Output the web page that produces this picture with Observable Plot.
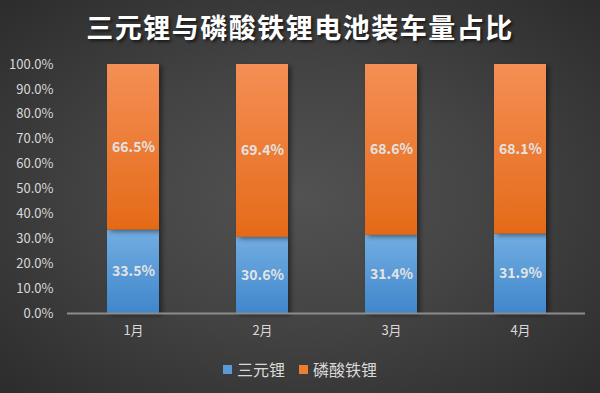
<!DOCTYPE html>
<html>
<head>
<meta charset="utf-8">
<script src="https://cdn.jsdelivr.net/npm/d3@7"></script>
<script src="https://cdn.jsdelivr.net/npm/@observablehq/plot@0.6"></script>
<style>
  html, body { margin: 0; padding: 0; }
  #wrap {
    position: relative; width: 600px; height: 393px; overflow: hidden;
    background: radial-gradient(ellipse at 50% 50%, #525252 0%, #444444 45%, #2c2c2c 100%);
    font-family: "Noto Sans CJK SC", "Noto Sans", sans-serif;
  }
  #title {
    position: absolute; left: 0; top: 7px; width: 600px; text-align: center;
    color: #ffffff; font-size: 27px; font-weight: bold; letter-spacing: 1.5px;
    text-shadow: 2px 2px 3px rgba(0,0,0,0.6);
  }
  #chart { position: absolute; left: 0; top: 0; }
  #legend {
    position: absolute; left: 0; top: 357px; width: 600px; display: flex;
    justify-content: center; gap: 14px; color: #d9d9d9; font-size: 16px;
  }
  .item { display: flex; align-items: center; gap: 5px; }
  .sw { width: 9px; height: 9px; display: inline-block; }
</style>
</head>
<body>
<div id="wrap">
  <div id="chart"></div>
  <div id="title">三元锂与磷酸铁锂电池装车量占比</div>
  <div id="legend"></div>
</div>
<script>
const months = ["1月", "2月", "3月", "4月"];
const seriesNames = ["三元锂", "磷酸铁锂"];
const ternary = [33.5, 30.6, 31.4, 31.9];
const lfp = [66.5, 69.4, 68.6, 68.1];
const yTicks = [0, 10, 20, 30, 40, 50, 60, 70, 80, 90, 100];
const seriesFills = ["url(#gBlue)", "url(#gOrange)"];
const swatchColors = ["#5b9bd5", "#ed7d31"];

const data = [];
months.forEach((m, i) => {
  data.push({month: m, series: seriesNames[0], value: ternary[i]});
  data.push({month: m, series: seriesNames[1], value: lfp[i]});
});

const plot = Plot.plot({
  width: 600,
  height: 393,
  marginLeft: 67,
  marginRight: 15,
  marginTop: 64,
  marginBottom: 80,
  style: {background: "transparent", color: "#d9d9d9", fontFamily: "'Noto Sans CJK SC', 'Noto Sans', sans-serif"},
  x: {domain: months, paddingInner: 0.6, paddingOuter: 0.3, label: null, tickSize: 0, tickPadding: 12},
  y: {domain: [0, 100], ticks: yTicks, tickFormat: d => d.toFixed(1) + "%", label: null, tickSize: 0, tickPadding: 14},
  color: {domain: seriesNames, range: seriesFills},
  marks: [
    Plot.axisY({ticks: yTicks, tickFormat: d => d.toFixed(1) + "%", tickSize: 0, tickPadding: 14, label: null, fontSize: 13, fill: "#d9d9d9"}),
    Plot.axisX({tickSize: 0, tickPadding: 12, label: null, fontSize: 13, fill: "#d9d9d9"}),
    Plot.barY(data, Plot.stackY({x: "month", y: "value", fill: "series", order: seriesNames, className: "bars"})),
    Plot.ruleY([0], {stroke: "#8c8c8c", strokeWidth: 2}),
    Plot.text(data, Plot.stackY({x: "month", y: "value", z: "series", order: seriesNames, text: d => d.value.toFixed(1) + "%", fill: "#e3e3e3", fontSize: 14, fontWeight: "bold"}))
  ]
});

// gradients
const ns = "http://www.w3.org/2000/svg";
const defs = document.createElementNS(ns, "defs");
defs.innerHTML = `
  <linearGradient id="gBlue" x1="0" y1="0" x2="0" y2="1">
    <stop offset="0" stop-color="#73ade2"/>
    <stop offset="1" stop-color="#3f87cb"/>
  </linearGradient>
  <linearGradient id="gOrange" x1="0" y1="0" x2="0" y2="1">
    <stop offset="0" stop-color="#f48f55"/>
    <stop offset="1" stop-color="#e56a18"/>
  </linearGradient>
  <filter id="shadow" x="-20%" y="-10%" width="150%" height="130%">
    <feDropShadow dx="3" dy="2" stdDeviation="2.5" flood-color="#000" flood-opacity="0.45"/>
  </filter>`;
plot.insertBefore(defs, plot.firstChild);
plot.querySelectorAll("g.bars rect, g[aria-label='bar'] rect").forEach(r => r.setAttribute("filter", "url(#shadow)"));
document.getElementById("chart").appendChild(plot);

const legend = document.getElementById("legend");
seriesNames.forEach((s, i) => {
  const it = document.createElement("div");
  it.className = "item";
  it.innerHTML = `<span class="sw" style="background:${swatchColors[i]}"></span><span>${s}</span>`;
  legend.appendChild(it);
});
</script>
</body>
</html>
